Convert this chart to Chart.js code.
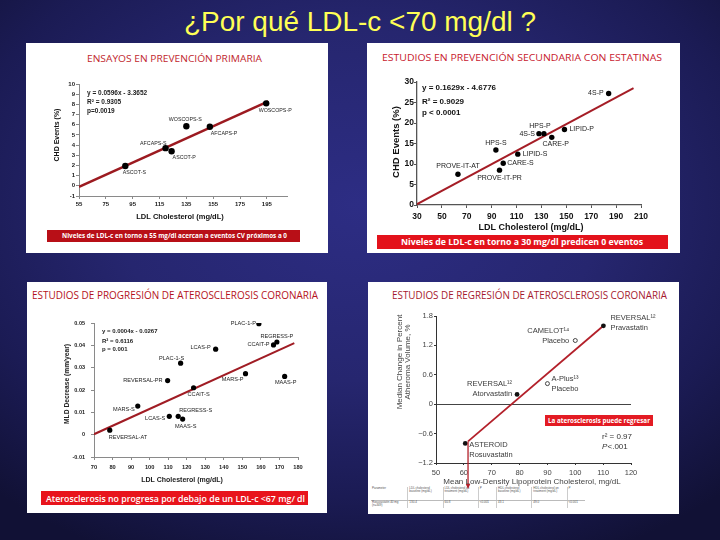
<!DOCTYPE html>
<html>
<head>
<meta charset="utf-8">
<script src="https://cdn.jsdelivr.net/npm/chart.js@4.4.0/dist/chart.umd.min.js"></script>
<style>
html, body { margin: 0; padding: 0; }
body {
    width: 720px; height: 540px; overflow: hidden; position: relative;
    background: radial-gradient(ellipse 75% 72% at 50% 38%, #2d2d84 0%, #26266f 45%, #1b1b54 75%, #111135 100%);
    font-family: "Liberation Sans", Arial, sans-serif;
}
.fit { position: absolute; white-space: nowrap; line-height: 1; transform-origin: left center; }
#mainTitle { left: 184px; top: 9px; color: #ffff55; font-size: 27px; font-family: "Liberation Sans Narrow", "Liberation Sans", Arial, sans-serif; }
.panel { position: absolute; background: #fff; }
.panel canvas { position: absolute; left: 0; top: 0; }
.ptitle { font-family: "Open Sans", sans-serif; }
.banner { position: absolute; }
.banner span { font-family: "Open Sans", sans-serif; font-weight: bold; color: #fff; top: 50%; }
.tbl { position: absolute; border-collapse: collapse; font-size: 3px; line-height: 1.1; color: #555; }
.tbl td { border-left: 0.5px solid #ccc; padding: 0 1px; vertical-align: top; }
.tbl tr:first-child td { border-bottom: 0.5px solid #bbb; height: 13px; }
</style>
</head>
<body>
<div class="fit" id="mainTitle" data-w="352">¿Por qué LDL-c &lt;70 mg/dl ?</div>

<div class="panel" style="left:26px;top:43px;width:302px;height:210px">
    <span class="fit ptitle" data-w="175" style="left:61px;top:11px;font-size:9.5px;color:#c1272d">ENSAYOS EN PREVENCIÓN PRIMARIA</span>
    <canvas id="chartPrim" width="302" height="210"></canvas>
    <div class="banner" style="left:21px;top:187px;width:253px;height:12px;background:#b80f17">
        <span class="fit" data-w="225" style="left:15px;font-size:6.5px">Niveles de LDL-c en torno a 55 mg/dl acercan a eventos CV próximos a 0</span>
    </div>
</div>

<div class="panel" style="left:367px;top:43px;width:313px;height:210px">
    <span class="fit ptitle" data-w="280" style="left:15px;top:9.5px;font-size:9px;color:#c8202e">ESTUDIOS EN PREVENCIÓN SECUNDARIA CON ESTATINAS</span>
    <canvas id="chartSec" width="313" height="210"></canvas>
    <div class="banner" style="left:10px;top:192px;width:291px;height:14px;background:#e3121b">
        <span class="fit" data-w="242" style="left:24px;font-size:8.5px">Niveles de LDL-c en torno a 30 mg/dl predicen 0 eventos</span>
    </div>
</div>

<div class="panel" style="left:27px;top:282px;width:300px;height:231px">
    <span class="fit ptitle" data-w="286" style="left:5px;top:7px;font-size:11px;color:#b5121b">ESTUDIOS DE PROGRESIÓN DE ATEROSCLEROSIS CORONARIA</span>
    <canvas id="chartProg" width="300" height="231"></canvas>
    <div class="banner" style="left:14px;top:209px;width:267px;height:14px;background:#e8141c">
        <span class="fit" data-w="259" style="left:5px;font-size:9px;font-weight:600">Aterosclerosis no progresa por debajo de un LDL-c &lt;67 mg/ dl</span>
    </div>
</div>

<div class="panel" style="left:368px;top:282px;width:311px;height:232px">
    <span class="fit ptitle" data-w="275" style="left:24px;top:7px;font-size:11px;color:#a6192e">ESTUDIOS DE REGRESIÓN DE ATEROSCLEROSIS CORONARIA</span>
    <table class="tbl" style="left:3px;top:205px;width:214px">
        <tr><td style="width:36px;border-left:none">Parameter</td><td style="width:34px">LDL cholesterol baseline (mg/dL)</td><td style="width:34px">LDL cholesterol on treatment (mg/dL)</td><td style="width:16px">P</td><td style="width:34px">HDL cholesterol baseline (mg/dL)</td><td style="width:34px">HDL cholesterol on treatment (mg/dL)</td><td style="width:16px">P</td></tr>
        <tr><td style="border-left:none">Rosuvastatin 40 mg (n=349)</td><td>130.4</td><td>60.8</td><td>&lt;0.001</td><td>43.1</td><td>49.0</td><td>&lt;0.001</td></tr>
    </table>
    <canvas id="chartReg" width="311" height="232"></canvas>
    <div class="banner" style="left:177px;top:133px;width:108px;height:11px;background:#e31b23">
        <span class="fit" data-w="102" style="left:3px;font-size:6.5px">La aterosclerosis puede regresar</span>
    </div>
</div>

<script>
// ---- data: prevención primaria
const prim_names = ['ASCOT-S', 'AFCAPS-S', 'ASCOT-P', 'WOSCOPS-S', 'AFCAPS-P', 'WOSCOPS-P']
const prim_ldl = [89.5, 119.5, 124, 135, 152.5, 194.5]
const prim_events = [1.95, 3.7, 3.4, 5.85, 5.8, 8.1]
const prim_fit_ldl = [55, 196]
const prim_fit_events = [-0.1, 8.3]
const prim_xticks = [55, 75, 95, 115, 135, 155, 175, 195]
const prim_yticks = [-1, 0, 1, 2, 3, 4, 5, 6, 7, 8, 9, 10]

// ---- data: prevención secundaria
const sec_names = ['4S-P', 'LIPID-P', 'HPS-P', '4S-S', 'CARE-P', 'HPS-S', 'LIPID-S', 'CARE-S', 'PROVE-IT-PR', 'PROVE-IT-AT']
const sec_ldl = [184, 148.5, 132, 128, 138.3, 93.4, 111, 99.3, 96.3, 62.9]
const sec_events = [27.2, 18.4, 17.4, 17.4, 16.5, 13.4, 12.4, 10.2, 8.5, 7.5]
const sec_fit_ldl = [30, 204]
const sec_fit_events = [0.2, 28.5]
const sec_xticks = [30, 50, 70, 90, 110, 130, 150, 170, 190, 210]
const sec_yticks = [0, 5, 10, 15, 20, 25, 30]

// ---- data: progresión
const prog_names = ['PLAC-1-P', 'REGRESS-P', 'CCAIT-P', 'LCAS-P', 'PLAC-1-S', 'REVERSAL-PR', 'MARS-P', 'MAAS-P', 'CCAIT-S', 'MARS-S', 'LCAS-S', 'REGRESS-S', 'MAAS-S', 'REVERSAL-AT']
const prog_ldl = [158.9, 168.6, 166.8, 135.6, 116.7, 109.7, 151.7, 172.8, 123.7, 93.6, 110.6, 115.4, 117.8, 78.5]
const prog_mld = [0.0497, 0.0415, 0.0402, 0.0383, 0.032, 0.0242, 0.0273, 0.0261, 0.021, 0.0128, 0.0082, 0.0082, 0.007, 0.002]
const prog_fit_ldl = [70, 178]
const prog_fit_mld = [0.0002, 0.041]
const prog_xticks = [70, 80, 90, 100, 110, 120, 130, 140, 150, 160, 170, 180]
const prog_yticks = [-0.01, 0, 0.01, 0.02, 0.03, 0.04, 0.05]

// ---- data: regresión
const reg_statin_names = ['REVERSAL¹²\nPravastatin', 'REVERSAL¹²\nAtorvastatin', 'ASTEROID\nRosuvastatin']
const reg_statin_ldl = [110.1, 79.1, 60.5]
const reg_statin_change = [1.6, 0.2, -0.8]
const reg_placebo_names = ['CAMELOT¹⁴\nPlacebo', 'A-Plus¹³\nPlacebo']
const reg_placebo_ldl = [100, 90]
const reg_placebo_change = [1.3, 0.42]
const reg_fit_ldl = [61.5, 110.1]
const reg_fit_change = [-0.76, 1.6]
const reg_xticks = [50, 60, 70, 80, 90, 100, 110, 120]
const reg_yticks = [-1.2, -0.6, 0, 0.6, 1.2, 1.8]

// label placement around each point: [align, dx, dy]
const prim_anchor = {
    'ASCOT-S': ['center', 9, 7], 'AFCAPS-S': ['right', 1, -5], 'ASCOT-P': ['left', 1, 6],
    'WOSCOPS-S': ['center', -1, -7], 'AFCAPS-P': ['left', 1, 7], 'WOSCOPS-P': ['center', 9, 7]
}
const sec_anchor = {
    '4S-P': ['right', -5, 0], 'LIPID-P': ['left', 5, 0], 'HPS-P': ['center', -4, -8], '4S-S': ['right', -4, 0],
    'CARE-P': ['center', 4, 7], 'HPS-S': ['center', 0, -7], 'LIPID-S': ['left', 5, 0], 'CARE-S': ['left', 4, 0],
    'PROVE-IT-PR': ['center', 0, 8], 'PROVE-IT-AT': ['center', 0, -8]
}
const prog_anchor = {
    'PLAC-1-P': ['right', -3, 0], 'REGRESS-P': ['center', 0, -6], 'CCAIT-P': ['right', -4, 0], 'LCAS-P': ['right', -5, -2],
    'PLAC-1-S': ['center', -9, -5], 'REVERSAL-PR': ['right', -5, 0], 'MARS-P': ['right', -2, 6], 'MAAS-P': ['center', 1, 6],
    'CCAIT-S': ['center', 5, 7], 'MARS-S': ['right', -3, 3], 'LCAS-S': ['right', -4, 2], 'REGRESS-S': ['left', 1, -6],
    'MAAS-S': ['center', 3, 7], 'REVERSAL-AT': ['left', -1, 7]
}
const reg_anchor = {
    'REVERSAL¹²\nPravastatin': ['left', 7, -8], 'REVERSAL¹²\nAtorvastatin': ['right', -5, -10],
    'ASTEROID\nRosuvastatin': ['left', 4, 2], 'CAMELOT¹⁴\nPlacebo': ['right', -6, -10], 'A-Plus¹³\nPlacebo': ['left', 4, -5]
}

// fit text spans to the widths measured on the slide
document.querySelectorAll('.fit').forEach(el => {
    let w = el.getBoundingClientRect().width
    let k = el.dataset.w / w
    let shift = el.closest('.banner') ? ' translateY(-50%)' : ''
    el.style.transform = shift + ' scaleX(' + k + ')'
})

Chart.defaults.font.family = "'Liberation Sans', Arial, sans-serif"
Chart.defaults.animation = false

const toXY = (xs, ys) => xs.map((x, i) => ({ x: x, y: ys[i] }))

const pointLabels = {
    id: 'pointLabels',
    afterDatasetsDraw(chart) {
        let ctx = chart.ctx
        chart.data.datasets.forEach((ds, i) => {
            if (!ds.names) return
            let meta = chart.getDatasetMeta(i)
            ctx.save()
            ctx.font = ds.labelFont
            ctx.fillStyle = ds.labelColor
            ctx.textBaseline = 'middle'
            meta.data.forEach((pt, j) => {
                let a = ds.anchor[ds.names[j]]
                ctx.textAlign = a[0]
                ds.names[j].split('\n').forEach((line, k) => {
                    ctx.fillText(line, pt.x + a[1], pt.y + a[2] + k * 10)
                })
            })
            ctx.restore()
        })
    }
}

function textLayer(items) {
    return {
        id: 'textLayer',
        afterDraw(chart) {
            let ctx = chart.ctx
            items.forEach(t => {
                ctx.save()
                ctx.font = t.font + " 'Liberation Sans', Arial, sans-serif"
                ctx.fillStyle = t.color || '#111'
                ctx.textAlign = t.align || 'left'
                ctx.textBaseline = 'middle'
                ctx.translate(t.x, t.y)
                if (t.rot) ctx.rotate(-Math.PI / 2)
                ctx.fillText(t.text, 0, 0)
                ctx.restore()
            })
        }
    }
}

function axis(min, max, ticks, o) {
    return {
        type: 'linear', min: min, max: max,
        afterBuildTicks: s => { s.ticks = ticks.map(v => ({ value: v })) },
        afterFit: s => {
            if (o.width) s.width = o.width
            if (o.height) s.height = o.height
            s.paddingLeft = 0; s.paddingRight = 0; s.paddingTop = 0; s.paddingBottom = 0
        },
        grid: o.grid || { drawOnChartArea: false, tickLength: o.tl, color: o.lc, tickColor: o.lc },
        border: { color: o.lc, width: o.bw || 1 },
        ticks: {
            font: o.font, color: o.tc, padding: o.pad, maxRotation: 0, autoSkip: false,
            callback: o.fmt || (v => String(v))
        }
    }
}

function baseOptions(pad, scales) {
    return {
        responsive: false,
        layout: { padding: pad },
        plugins: { legend: { display: false }, tooltip: { enabled: false } },
        scales: scales
    }
}

// ---- chart 1: primaria
new Chart(document.querySelector('#chartPrim'), {
    type: 'scatter',
    data: {
        datasets: [
            {
                data: toXY(prim_ldl, prim_events), names: prim_names, anchor: prim_anchor,
                labelFont: "5.3px 'Liberation Sans'", labelColor: '#222',
                pointRadius: 3.2, pointBackgroundColor: '#000', pointBorderWidth: 0, order: 0
            },
            {
                data: toXY(prim_fit_ldl, prim_fit_events), showLine: true, pointRadius: 0,
                borderColor: '#9c1a20', borderWidth: 2.5, order: 1
            }
        ]
    },
    options: baseOptions({ left: 0, top: 41, right: 41, bottom: 0 }, {
        x: axis(55, 210, prim_xticks, { height: 57, tl: 3, lc: '#8a8a8a', pad: 2, tc: '#222', font: { size: 6, weight: 'bold' } }),
        y: axis(-1, 10, prim_yticks, { width: 53, tl: 3, lc: '#8a8a8a', pad: 1, tc: '#222', font: { size: 6, weight: 'bold' } })
    }),
    plugins: [pointLabels, textLayer([
        { text: 'LDL Cholesterol (mg/dL)', x: 154, y: 174, font: 'bold 7.5px', align: 'center' },
        { text: 'CHD Events (%)', x: 31, y: 92, font: 'bold 7px', align: 'center', rot: true },
        { text: 'y = 0.0596x - 3.3652', x: 61, y: 50, font: 'bold 6.5px', color: '#222' },
        { text: 'R² = 0.9305', x: 61, y: 59, font: 'bold 6.5px', color: '#222' },
        { text: 'p=0.0019', x: 61, y: 68, font: 'bold 6.5px', color: '#222' }
    ])]
})

// ---- chart 2: secundaria
new Chart(document.querySelector('#chartSec'), {
    type: 'scatter',
    data: {
        datasets: [
            {
                data: toXY(sec_ldl, sec_events), names: sec_names, anchor: sec_anchor,
                labelFont: "7px 'Liberation Sans'", labelColor: '#222',
                pointRadius: 2.7, pointBackgroundColor: '#000', pointBorderWidth: 0, order: 0
            },
            {
                data: toXY(sec_fit_ldl, sec_fit_events), showLine: true, pointRadius: 0,
                borderColor: '#a51d26', borderWidth: 2, order: 1
            }
        ]
    },
    options: baseOptions({ left: 0, top: 39, right: 39, bottom: 0 }, {
        x: axis(30, 210, sec_xticks, { height: 48, tl: 3, lc: '#555', bw: 1.3, pad: 3.5, tc: '#111', font: { size: 8.5, weight: 'bold' } }),
        y: axis(0, 30, sec_yticks, { width: 50, tl: 3, lc: '#555', bw: 1.3, pad: 0, tc: '#111', font: { size: 8.5, weight: 'bold' } })
    }),
    plugins: [pointLabels, textLayer([
        { text: 'LDL Cholesterol (mg/dL)', x: 164, y: 185, font: 'bold 9px', align: 'center' },
        { text: 'CHD Events (%)', x: 29, y: 99, font: 'bold 9.5px', align: 'center', rot: true },
        { text: 'y = 0.1629x - 4.6776', x: 55, y: 45, font: 'bold 8px' },
        { text: 'R² = 0.9029', x: 55, y: 59, font: 'bold 8px' },
        { text: 'p < 0.0001', x: 55, y: 70, font: 'bold 8px' }
    ])]
})

// ---- chart 3: progresión
new Chart(document.querySelector('#chartProg'), {
    type: 'scatter',
    data: {
        datasets: [
            {
                data: toXY(prog_ldl, prog_mld), names: prog_names, anchor: prog_anchor,
                labelFont: "5.6px 'Liberation Sans'", labelColor: '#222',
                pointRadius: 2.6, pointBackgroundColor: '#000', pointBorderWidth: 0, order: 0
            },
            {
                data: toXY(prog_fit_ldl, prog_fit_mld), showLine: true, pointRadius: 0,
                borderColor: '#a01c24', borderWidth: 2, order: 1
            }
        ]
    },
    options: baseOptions({ left: 0, top: 41, right: 29, bottom: 0 }, {
        x: axis(70, 180, prog_xticks, { height: 56, tl: 3, lc: '#8a8a8a', pad: 4, tc: '#222', font: { size: 5.7, weight: 'bold' } }),
        y: axis(-0.01, 0.05, prog_yticks, { width: 67, tl: 3, lc: '#8a8a8a', pad: 6, tc: '#222', font: { size: 5.5, weight: 'bold' } })
    }),
    plugins: [pointLabels, textLayer([
        { text: 'LDL Cholesterol (mg/dL)', x: 155, y: 198, font: 'bold 7px', align: 'center', color: '#222' },
        { text: 'MLD Decrease (mm/year)', x: 40, y: 102, font: 'bold 6.7px', align: 'center', rot: true, color: '#222' },
        { text: 'y = 0.0004x - 0.0267', x: 75, y: 49, font: 'bold 6px', color: '#222' },
        { text: 'R² = 0.6116', x: 75, y: 59, font: 'bold 6px', color: '#222' },
        { text: 'p = 0.001', x: 75, y: 67.5, font: 'bold 6px', color: '#222' }
    ])]
})

// ---- chart 4: regresión
const arrowDown = {
    id: 'arrowDown',
    afterDatasetsDraw(chart) {
        let p = chart.getDatasetMeta(2).data[0]
        let ctx = chart.ctx
        ctx.save()
        ctx.strokeStyle = '#b3202a'
        ctx.fillStyle = '#b3202a'
        ctx.lineWidth = 1.3
        ctx.beginPath()
        ctx.moveTo(p.x, p.y)
        ctx.lineTo(p.x, 203)
        ctx.stroke()
        ctx.beginPath()
        ctx.moveTo(p.x - 2.2, 202)
        ctx.lineTo(p.x + 2.2, 202)
        ctx.lineTo(p.x, 207)
        ctx.closePath()
        ctx.fill()
        ctx.restore()
    }
}

new Chart(document.querySelector('#chartReg'), {
    type: 'scatter',
    data: {
        datasets: [
            {
                data: toXY(reg_statin_ldl, reg_statin_change), names: reg_statin_names, anchor: reg_anchor,
                labelFont: "7.5px 'Liberation Sans'", labelColor: '#3a3a3a',
                pointRadius: 2.4, pointBackgroundColor: '#111', pointBorderWidth: 0, order: 0
            },
            {
                data: toXY(reg_placebo_ldl, reg_placebo_change), names: reg_placebo_names, anchor: reg_anchor,
                labelFont: "7.5px 'Liberation Sans'", labelColor: '#3a3a3a',
                pointRadius: 2, pointBackgroundColor: '#fff', pointBorderColor: '#333', pointBorderWidth: 0.9, order: 0
            },
            {
                data: toXY(reg_fit_ldl, reg_fit_change), showLine: true, pointRadius: 0,
                borderColor: '#b3202a', borderWidth: 1.8, order: 1
            }
        ]
    },
    options: baseOptions({ left: 0, top: 34, right: 48, bottom: 0 }, {
        x: axis(50, 120, reg_xticks, { height: 51, tl: 2, lc: '#333', pad: 3, tc: '#444', font: { size: 7.5 } }),
        y: axis(-1.2, 1.8, reg_yticks, {
            width: 68, tl: 2, lc: '#333', pad: 1, tc: '#444', font: { size: 7.5 },
            fmt: v => String(v).replace('-', '−'),
            grid: {
                drawOnChartArea: true, tickLength: 2, tickColor: '#333',
                color: c => (c.tick && c.tick.value === 0) ? '#444' : 'rgba(0,0,0,0)'
            }
        })
    }),
    plugins: [pointLabels, arrowDown, textLayer([
        { text: 'Mean Low-Density Lipoprotein Cholesterol, mg/dL', x: 164, y: 200, font: '8px', align: 'center', color: '#444' },
        { text: 'Median Change in Percent', x: 32, y: 80, font: '8px', align: 'center', rot: true, color: '#444' },
        { text: 'Atheroma Volume, %', x: 40, y: 80, font: '8px', align: 'center', rot: true, color: '#444' },
        { text: 'r² = 0.97', x: 234, y: 155, font: '8px', color: '#333' },
        { text: 'P', x: 234, y: 165, font: 'italic 8px', color: '#333' },
        { text: '<.001', x: 239.5, y: 165, font: '8px', color: '#333' }
    ])]
})
</script>
</body>
</html>
